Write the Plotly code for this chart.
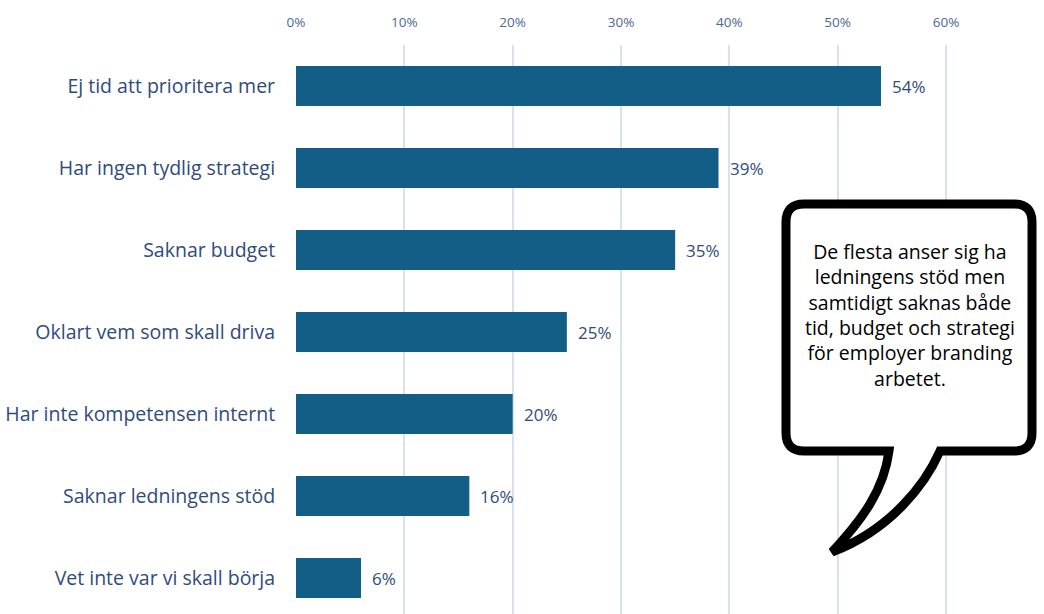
import plotly.graph_objects as go

# Survey answers and share of respondents (%)
categories = [
    "Ej tid att prioritera mer",
    "Har ingen tydlig strategi",
    "Saknar budget",
    "Oklart vem som skall driva",
    "Har inte kompetensen internt",
    "Saknar ledningens stöd",
    "Vet inte var vi skall börja",
]
values = [54, 39, 35, 25, 20, 16, 6]
tick_values = [0, 10, 20, 30, 40, 50, 60]
tick_labels = ["0%", "10%", "20%", "30%", "40%", "50%", "60%"]
callout_lines = [
    "De flesta anser sig ha",
    "ledningens stöd men",
    "samtidigt saknas både",
    "tid, budget och strategi",
    "för employer branding",
    "arbetet.",
]

W, H = 1044, 614
ML, MR, MT, MB = 296, 0, 45, 0
PW, PH = W - ML - MR, H - MT - MB

BAR = "#135e87"
TXT = "#2f4b7c"
FONT = "'Open Sans', Lato, sans-serif"


def px(x):
    return (x - ML) / PW


def py(y):
    return (H - MB - y) / PH


fig = go.Figure()
fig.add_trace(go.Bar(
    y=list(range(len(categories))),
    x=values,
    orientation="h",
    width=0.49,
    marker=dict(color=BAR, line=dict(width=0)),
    hoverinfo="skip",
))

# value labels just right of each bar
for i, v in enumerate(values):
    fig.add_annotation(
        x=v, y=i, xref="x", yref="y",
        text=f"{v}%", showarrow=False,
        xanchor="left", xshift=9,
        font=dict(family=FONT, size=17, color=TXT),
    )

# speech-bubble outline (pixel points converted to paper units)
L, R, T, B, r = 786, 1032, 204, 451, 18
pts = [
    ("M", L + r, T),
    ("L", R - r, T),
    ("Q", R, T, R, T + r),
    ("L", R, B - r),
    ("Q", R, B, R - r, B),
    ("L", 940, B),
    ("C", 925, 485, 890, 530, 832, 552),
    ("C", 862, 520, 884, 490, 889, B),
    ("L", L + r, B),
    ("Q", L, B, L, B - r),
    ("L", L, T + r),
    ("Q", L, T, L + r, T),
]
parts = []
for p in pts:
    cmd, coords = p[0], p[1:]
    xy = []
    for k in range(0, len(coords), 2):
        xy.append(f"{px(coords[k]):.5f},{py(coords[k + 1]):.5f}")
    parts.append(cmd + " " + " ".join(xy))
path = " ".join(parts) + " Z"

fig.add_shape(
    type="path", path=path, xref="paper", yref="paper",
    fillcolor="white", line=dict(color="black", width=9),
    layer="above",
)
fig.add_annotation(
    x=px(910), y=py(315), xref="paper", yref="paper",
    text="<br>".join(callout_lines), showarrow=False,
    align="center", xanchor="center", yanchor="middle",
    font=dict(family=FONT, size=19.5, color="black"),
)

n = len(categories)
fig.update_layout(
    width=W, height=H,
    margin=dict(l=ML, r=MR, t=MT, b=MB),
    paper_bgcolor="white", plot_bgcolor="white",
    showlegend=False,
    xaxis=dict(
        side="top", range=[0, PW / (650 / 60)],
        tickvals=tick_values, ticktext=tick_labels,
        tickfont=dict(family=FONT, size=13.5, color="#4a6a96"),
        ticks="outside", ticklen=12, tickcolor="rgba(0,0,0,0)",
        showgrid=True, gridcolor="#d6e2f0", gridwidth=1.5,
        zeroline=False, showline=False, fixedrange=True,
    ),
    yaxis=dict(
        range=[-0.5 + PH / 82, -0.5],
        tickvals=list(range(n)), ticktext=categories,
        tickfont=dict(family=FONT, size=19.5, color=TXT),
        ticks="outside", ticklen=16, tickcolor="rgba(0,0,0,0)",
        showgrid=False, zeroline=False, showline=False, fixedrange=True,
    ),
)

fig.write_html("out.html")
